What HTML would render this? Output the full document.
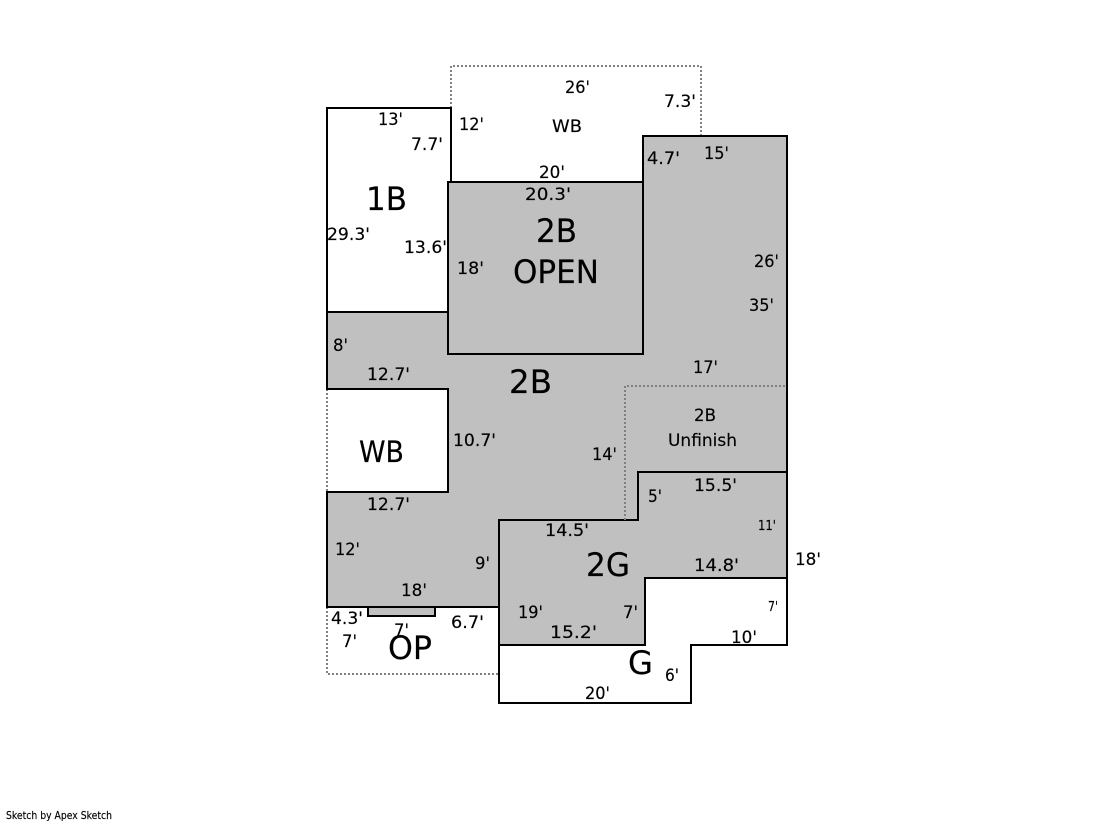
<!DOCTYPE html>
<html><head><meta charset="utf-8"><style>
html,body{margin:0;padding:0;background:#fff;width:1119px;height:821px;overflow:hidden}
svg{display:block}
text{font-family:"DejaVu Sans","Liberation Sans",sans-serif;font-size:17px;fill:#000;stroke:#000;stroke-width:.15px}
.l{font-size:32px}.m{font-size:29px}.s{font-size:13px}
.b{fill:none;stroke:#000;stroke-width:2;shape-rendering:crispEdges}
.g{fill:#c0c0c0;stroke:#000;stroke-width:2;shape-rendering:crispEdges}
.d{fill:none;stroke:#808080;stroke-width:2;stroke-dasharray:2 2;shape-rendering:crispEdges}
</style></head><body>
<svg width="1119" height="821" viewBox="0 0 1119 821" xmlns="http://www.w3.org/2000/svg">
<rect width="1119" height="821" fill="#fff"/>
<path class="d" d="M451 108V66H701V136"/>
<path class="d" d="M327 389V492"/>
<path class="d" d="M327 607V674H499"/>
<path class="g" d="M643 136H787V472H638V520H499V607H327V492H448V389H327V312H448V182H643Z"/>
<path class="g" d="M448 182H643V354H448Z"/>
<path class="g" d="M499 520H638V472H787V578H645V645H499Z"/>
<path class="b" d="M448 312H327V108H451V182"/>
<path class="b" d="M499 645V703H691V645H787V578"/>
<path class="g" d="M368 607H435V616H368Z"/>
<path class="d" d="M625 520V386H787"/>
<g>
<text lengthAdjust="spacingAndGlyphs" x="378" y="125" textLength="25">13'</text>
<text lengthAdjust="spacingAndGlyphs" x="411" y="150" textLength="32">7.7'</text>
<text lengthAdjust="spacingAndGlyphs" x="459" y="130" textLength="25">12'</text>
<text lengthAdjust="spacingAndGlyphs" x="539" y="178" textLength="26">20'</text>
<text lengthAdjust="spacingAndGlyphs" x="525" y="200" textLength="46">20.3'</text>
<text class="l" lengthAdjust="spacingAndGlyphs" x="366" y="210" textLength="41">1B</text>
<text lengthAdjust="spacingAndGlyphs" x="327" y="240" textLength="43">29.3'</text>
<text lengthAdjust="spacingAndGlyphs" x="404" y="253" textLength="43">13.6'</text>
<text lengthAdjust="spacingAndGlyphs" x="565" y="93" textLength="25">26'</text>
<text lengthAdjust="spacingAndGlyphs" x="664" y="107" textLength="32">7.3'</text>
<text lengthAdjust="spacingAndGlyphs" x="552" y="132" textLength="30">WB</text>
<text lengthAdjust="spacingAndGlyphs" x="647" y="164" textLength="33">4.7'</text>
<text lengthAdjust="spacingAndGlyphs" x="704" y="159" textLength="25">15'</text>
<text lengthAdjust="spacingAndGlyphs" x="754" y="267" textLength="25">26'</text>
<text lengthAdjust="spacingAndGlyphs" x="749" y="311" textLength="25">35'</text>
<text lengthAdjust="spacingAndGlyphs" x="693" y="373" textLength="25">17'</text>
<text lengthAdjust="spacingAndGlyphs" x="457" y="274" textLength="27">18'</text>
<text class="l" lengthAdjust="spacingAndGlyphs" x="536" y="242" textLength="41">2B</text>
<text class="l" lengthAdjust="spacingAndGlyphs" x="513" y="283" textLength="86">OPEN</text>
<text class="l" lengthAdjust="spacingAndGlyphs" x="509" y="393" textLength="43">2B</text>
<text lengthAdjust="spacingAndGlyphs" x="333" y="351" textLength="15">8'</text>
<text lengthAdjust="spacingAndGlyphs" x="367" y="380" textLength="43">12.7'</text>
<text class="m" lengthAdjust="spacingAndGlyphs" x="359" y="462" textLength="45">WB</text>
<text lengthAdjust="spacingAndGlyphs" x="453" y="446" textLength="43">10.7'</text>
<text lengthAdjust="spacingAndGlyphs" x="592" y="460" textLength="25">14'</text>
<text lengthAdjust="spacingAndGlyphs" x="694" y="421" textLength="22">2B</text>
<text lengthAdjust="spacingAndGlyphs" x="668" y="446" textLength="69">Unfinish</text>
<text lengthAdjust="spacingAndGlyphs" x="694" y="491" textLength="43">15.5'</text>
<text lengthAdjust="spacingAndGlyphs" x="648" y="502" textLength="14">5'</text>
<text class="s" lengthAdjust="spacingAndGlyphs" x="758" y="530" textLength="18">11'</text>
<text lengthAdjust="spacingAndGlyphs" x="694" y="571" textLength="45">14.8'</text>
<text lengthAdjust="spacingAndGlyphs" x="795" y="565" textLength="26">18'</text>
<text class="l" lengthAdjust="spacingAndGlyphs" x="586" y="576" textLength="44">2G</text>
<text lengthAdjust="spacingAndGlyphs" x="623" y="618" textLength="15">7'</text>
<text class="s" lengthAdjust="spacingAndGlyphs" x="768" y="611" textLength="10">7'</text>
<text lengthAdjust="spacingAndGlyphs" x="731" y="643" textLength="26">10'</text>
<text class="l" lengthAdjust="spacingAndGlyphs" x="628" y="674" textLength="25">G</text>
<text lengthAdjust="spacingAndGlyphs" x="665" y="681" textLength="14">6'</text>
<text lengthAdjust="spacingAndGlyphs" x="585" y="699" textLength="25">20'</text>
<text lengthAdjust="spacingAndGlyphs" x="550" y="638" textLength="47">15.2'</text>
<text lengthAdjust="spacingAndGlyphs" x="545" y="536" textLength="44">14.5'</text>
<text lengthAdjust="spacingAndGlyphs" x="367" y="510" textLength="43">12.7'</text>
<text lengthAdjust="spacingAndGlyphs" x="335" y="555" textLength="25">12'</text>
<text lengthAdjust="spacingAndGlyphs" x="475" y="569" textLength="15">9'</text>
<text lengthAdjust="spacingAndGlyphs" x="401" y="596" textLength="26">18'</text>
<text lengthAdjust="spacingAndGlyphs" x="331" y="624" textLength="32">4.3'</text>
<text lengthAdjust="spacingAndGlyphs" x="342" y="647" textLength="15">7'</text>
<text lengthAdjust="spacingAndGlyphs" x="394" y="636" textLength="15">7'</text>
<text lengthAdjust="spacingAndGlyphs" x="451" y="628" textLength="33">6.7'</text>
<text lengthAdjust="spacingAndGlyphs" x="518" y="618" textLength="25">19'</text>
<text class="l" lengthAdjust="spacingAndGlyphs" x="388" y="659" textLength="44">OP</text>
<text lengthAdjust="spacingAndGlyphs" x="6" y="819" textLength="106" style="font-size:11px">Sketch by Apex Sketch</text>
</g>
</svg>
</body></html>
